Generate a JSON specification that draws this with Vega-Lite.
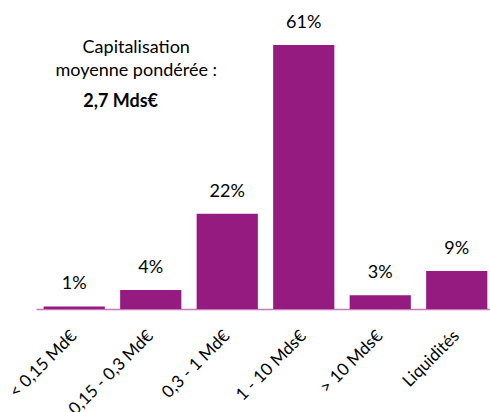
{
  "$schema": "https://vega.github.io/schema/vega-lite/v6.json",
  "width": 459,
  "height": 303,
  "autosize": {"type": "none"},
  "padding": {"left": 36, "top": 6, "right": 0, "bottom": 103},
  "background": "white",
  "config": {"view": {"stroke": null}, "font": "Lato"},
  "data": {"values": [
    {"cat": "< 0,15 Md€", "share": 0.006},
    {"cat": "0,15 - 0,3 Md€", "share": 0.044},
    {"cat": "0,3 - 1 Md€", "share": 0.22},
    {"cat": "1 - 10 Mds€", "share": 0.61},
    {"cat": "> 10 Mds€", "share": 0.032},
    {"cat": "Liquidités", "share": 0.088}
  ]},
  "encoding": {
    "x": {"field": "cat", "type": "nominal", "sort": null,
      "scale": {"paddingInner": 0.2, "paddingOuter": 0.1},
      "axis": {"title": null, "labelAngle": -45, "labelAlign": "right", "labelBaseline": "middle",
        "labelPadding": 24, "ticks": false, "domainColor": "#C27BB5", "domainWidth": 1.5,
        "labelFont": "Lato", "labelFontSize": 17, "labelColor": "#000000"}}
  },
  "layer": [
    {"mark": {"type": "bar", "color": "#951B81"},
     "encoding": {"y": {"field": "share", "type": "quantitative", "scale": {"domain": [0, 0.7]}, "axis": null}}},
    {"mark": {"type": "text", "baseline": "alphabetic", "dy": -17, "fontSize": 18, "color": "#000000"},
     "encoding": {"y": {"field": "share", "type": "quantitative"},
       "text": {"field": "share", "type": "quantitative", "format": ".0%"}}},
    {"data": {"values": [{"note": "Capitalisation\nmoyenne pondérée :"}]},
     "mark": {"type": "text", "fontSize": 18, "lineHeight": 22.5, "baseline": "alphabetic", "align": "center", "dx": -14.5, "lineBreak": "\n", "color": "#000000"},
     "encoding": {"x": {"datum": "0,15 - 0,3 Md€"}, "y": {"datum": 0.591}, "text": {"field": "note"}}},
    {"data": {"values": [{"note": "2,7 Mds€"}]},
     "mark": {"type": "text", "fontSize": 18, "fontWeight": "bold", "baseline": "alphabetic", "align": "left", "dx": -67.5, "color": "#000000"},
     "encoding": {"x": {"datum": "0,15 - 0,3 Md€"}, "y": {"datum": 0.4665}, "text": {"field": "note"}}}
  ]
}
